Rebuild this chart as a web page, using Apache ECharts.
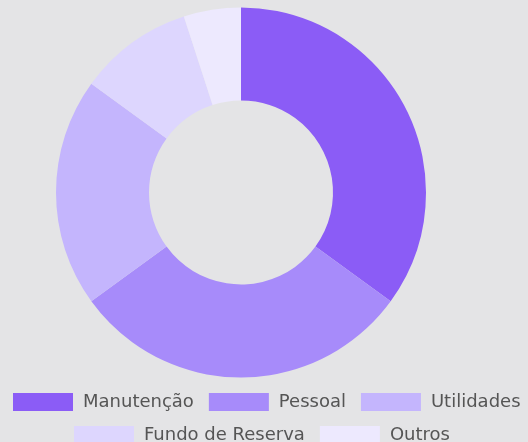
<!DOCTYPE html>
<html><head><meta charset="utf-8">
<script src="https://cdn.jsdelivr.net/npm/echarts@6/dist/echarts.min.js"></script>
<style>html,body{margin:0;padding:0;background:#e4e4e6}#c{width:528px;height:442px}</style>
</head><body><div id="c"></div>
<script>
const categories = ['Manutenção', 'Pessoal', 'Utilidades', 'Fundo de Reserva', 'Outros'];
const values = [35, 30, 20, 10, 5];
const colors = ['#8b5cf6', '#a78bfa', '#c4b5fd', '#ddd6fe', '#ede9fe'];
const legendRow1 = categories.slice(0, 3);
const legendRow2 = categories.slice(3);
const chart = echarts.init(document.getElementById('c'));
const legendBase = {
  orient: 'horizontal',
  itemWidth: 60,
  itemHeight: 18,
  itemGap: 15,
  padding: 0,
  icon: 'rect',
  textStyle: { fontFamily: 'DejaVu Sans', fontSize: 18, lineHeight: 18, color: '#555', padding: [0, 0, 0, 5] }
};
chart.setOption({
  backgroundColor: '#e4e4e6',
  animation: false,
  color: colors,
  legend: [
    Object.assign({}, legendBase, { top: 393, left: 13, data: legendRow1 }),
    Object.assign({}, legendBase, { top: 426, left: 74, data: legendRow2 })
  ],
  series: [{
    type: 'pie',
    center: [241, 192.5],
    radius: [92, 185],
    startAngle: 90,
    clockwise: true,
    label: { show: false },
    labelLine: { show: false },
    data: categories.map((n, i) => ({ name: n, value: values[i] }))
  }]
});
</script></body></html>
